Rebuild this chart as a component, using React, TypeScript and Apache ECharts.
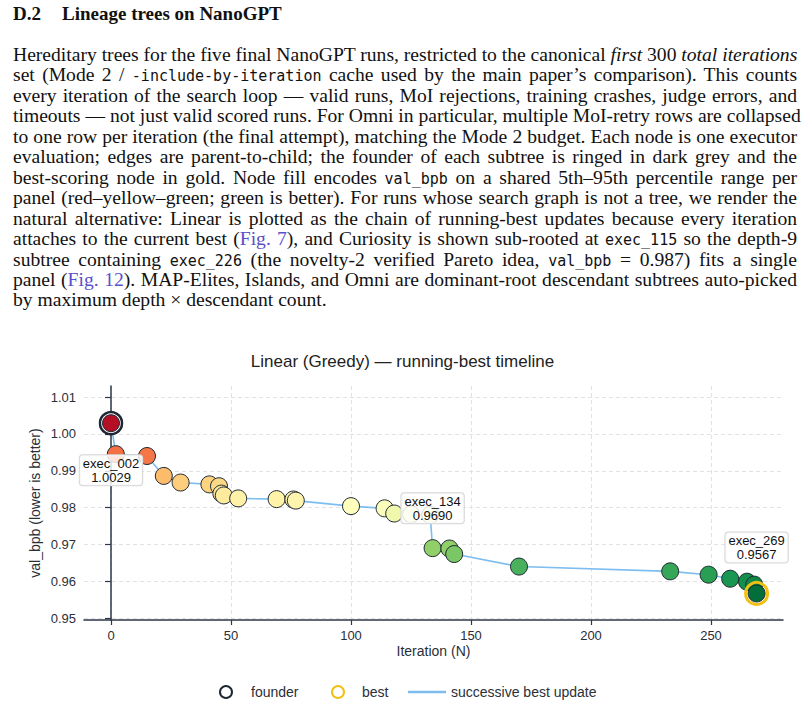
import React, { useEffect, useRef } from "react";
import * as echarts from "echarts";

// ---------- data ----------
const iterations = [0, 2, 15, 22, 29, 41, 45, 46, 47, 53, 69, 76, 77, 100, 114, 118, 125, 133, 134, 141, 143, 170, 233, 249, 258, 265, 268, 269];
const valBpb = [1.0029, 0.9945, 0.994, 0.9886, 0.9868, 0.9863, 0.9858, 0.9838, 0.9833, 0.9825, 0.9823, 0.9822, 0.9819, 0.9804, 0.9798, 0.9784, 0.9782, 0.978, 0.969, 0.9689, 0.9674, 0.964, 0.9627, 0.9618, 0.9607, 0.9599, 0.9591, 0.9567];
const founderIter = [0];
const founderVal = [1.0029];
const bestIter = [269];
const bestVal = [0.9567];
const annotationNames = ["exec_002", "exec_134", "exec_269"];
const annotationIter = [0, 134, 269];
const annotationVal = [1.0029, 0.969, 0.9567];
const xTicks = [0, 50, 100, 150, 200, 250];
const yTicks = [0.95, 0.96, 0.97, 0.98, 0.99, 1.0, 1.01];
const colorDomain = [0.9561, 1.0044]; // shared 5th–95th percentile range
const rdYlGnReversed = ["#006837", "#1a9850", "#66bd63", "#a6d96a", "#d9ef8b", "#ffffbf", "#fee08b", "#fdae61", "#f46d43", "#d73027", "#a50026"];

const SANS = '"Liberation Sans", Arial, Helvetica, sans-serif';
const SERIF = '"Liberation Serif", "Times New Roman", Times, serif';
const MONO = '"DejaVu Sans Mono", "Liberation Mono", monospace';
const AXIS = "#2d3748";
const TEXT = "#2a2f38";
const EDGE = "#7dbdf0";

const Mono = ({ children }: { children: React.ReactNode }) => (
  <span style={{ fontFamily: MONO, fontSize: "15px" }}>{children}</span>
);
const Link = ({ children }: { children: React.ReactNode }) => (
  <span style={{ color: "#5a50c8" }}>{children}</span>
);

const LINE_TOP = 45;
const LINE_STEP = 20.45;

function TextLine({ i, last, children }: { i: number; last?: boolean; children: React.ReactNode }) {
  return (
    <div
      style={{
        position: "absolute",
        left: 13,
        width: 784,
        top: LINE_TOP + i * LINE_STEP,
        height: 20,
        lineHeight: "20px",
        fontFamily: SERIF,
        fontSize: "19.6px",
        color: "#111",
        whiteSpace: "nowrap",
        textAlign: last ? "left" : "justify",
        textAlignLast: last ? "left" : "justify",
      } as React.CSSProperties}
    >
      {children}
    </div>
  );
}

export default function App() {
  const ref = useRef<HTMLDivElement>(null);

  useEffect(() => {
    if (!ref.current) return;
    const chart = echarts.init(ref.current, undefined, { renderer: "svg" });
    const pts = iterations.map((x, i) => [x, valBpb[i]]);
    const founder = founderIter.map((x, i) => [x, founderVal[i]]);
    const best = bestIter.map((x, i) => [x, bestVal[i]]);
    const ann = annotationIter.map((x, i) => ({
      value: [x, annotationVal[i], annotationNames[i]],
      label: { offset: [0, i === 0 ? 47 : i === 1 ? -40 : -46] },
    }));
    const axisLabelStyle = { fontSize: 13, color: TEXT, fontFamily: SANS };
    const gridLine = { show: true, lineStyle: { color: "#e2e2e2", width: 1, type: [4, 3] as any } };
    const legendText = { fontSize: 14, color: TEXT, fontFamily: SANS };

    chart.setOption({
      animation: false,
      backgroundColor: "transparent",
      textStyle: { fontFamily: SANS },
      title: {
        text: "Linear (Greedy) — running-best timeline",
        left: "center",
        top: 18,
        textStyle: { fontSize: 17, fontWeight: "normal", color: "#222", fontFamily: SANS },
      },
      grid: { left: 84, top: 56, width: 699, height: 234 },
      xAxis: {
        type: "value",
        min: -11.25,
        max: 280,
        name: "Iteration (N)",
        nameLocation: "middle",
        nameGap: 24,
        nameMoveOverlap: false,
        nameTextStyle: { fontSize: 14, color: TEXT, fontFamily: SANS },
        axisLine: { show: true, lineStyle: { color: AXIS, width: 1.5 } },
        axisTick: { show: true, length: 5, customValues: xTicks, lineStyle: { color: AXIS, width: 1.2 } },
        axisLabel: { ...axisLabelStyle, customValues: xTicks, margin: 9 },
        splitLine: gridLine,
      },
      yAxis: {
        type: "value",
        min: 0.9495,
        max: 1.013,
        name: "val_bpb (lower is better)",
        nameLocation: "middle",
        nameGap: 42,
        nameMoveOverlap: false,
        nameTextStyle: { fontSize: 14, color: TEXT, fontFamily: SANS },
        axisLine: { show: true, lineStyle: { color: AXIS, width: 1.5 } },
        axisTick: { show: true, length: 6, customValues: yTicks, lineStyle: { color: AXIS, width: 1.2 } },
        axisLabel: { ...axisLabelStyle, customValues: yTicks, margin: 8, formatter: (v: number) => v.toFixed(2) },
        splitLine: gridLine,
      },
      visualMap: {
        show: false,
        type: "continuous",
        min: colorDomain[0],
        max: colorDomain[1],
        dimension: 1,
        seriesIndex: 1,
        inRange: { color: rdYlGnReversed },
      },
      legend: [
        {
          data: ["founder"],
          left: 219,
          top: 355,
          padding: 0,
          itemWidth: 12,
          itemHeight: 12,
          itemStyle: { borderWidth: 2 },
          textStyle: { ...legendText, padding: [0, 0, 0, 14] },
        },
        {
          data: ["best"],
          left: 331,
          top: 355,
          padding: 0,
          itemWidth: 12,
          itemHeight: 12,
          itemStyle: { borderWidth: 2 },
          textStyle: { ...legendText, padding: [0, 0, 0, 13] },
        },
        {
          data: [{ name: "successive best update", icon: "rect" }],
          left: 408,
          top: 355,
          padding: 0,
          itemWidth: 38,
          itemHeight: 2.5,
          textStyle: legendText,
        },
      ],
      series: [
        {
          type: "line",
          name: "edges",
          data: pts,
          symbol: "none",
          lineStyle: { color: EDGE, width: 1.6 },
          itemStyle: { color: EDGE },
          z: 1,
          silent: true,
        },
        {
          type: "scatter",
          name: "nodes",
          data: pts,
          symbol: "circle",
          symbolSize: 17,
          itemStyle: { borderColor: "#1f2933", borderWidth: 1, opacity: 1 },
          z: 3,
        },
        {
          type: "scatter",
          name: "founder",
          data: founder,
          symbol: "circle",
          symbolSize: 22,
          itemStyle: { color: "#ffffff", borderColor: "#1e2733", borderWidth: 2.5, opacity: 1 },
          z: 2,
        },
        {
          type: "scatter",
          name: "best",
          data: best,
          symbol: "circle",
          symbolSize: 22,
          itemStyle: { color: "rgba(255,255,255,0)", borderColor: "#f2c014", borderWidth: 3, opacity: 1 },
          z: 4,
        },
        {
          type: "bar",
          name: "successive best update",
          data: [],
          itemStyle: { color: EDGE },
        },
        {
          type: "scatter",
          name: "annotations",
          data: ann,
          symbolSize: 0,
          silent: true,
          z: 10,
          itemStyle: { opacity: 1 },
          label: {
            show: true,
            position: "inside",
            formatter: (p: any) => `${p.value[2]}\n${p.value[1].toFixed(4)}`,
            fontSize: 13,
            lineHeight: 14,
            color: "#111",
            opacity: 1,
            textBorderWidth: 0,
            fontFamily: SANS,
            backgroundColor: "rgba(255,255,255,0.82)",
            borderColor: "#d6d6d6",
            borderWidth: 1,
            borderRadius: 3,
            padding: [1, 3, 1, 3],
          },
        },
      ],
    });
    return () => chart.dispose();
  }, []);

  return (
    <div style={{ position: "relative", width: 805, height: 708, background: "#fff", overflow: "hidden" }}>
      <style>{`body{margin:0}`}</style>
      <div
        style={{
          position: "absolute",
          left: 13,
          top: 3,
          height: 22,
          lineHeight: "22px",
          fontFamily: SERIF,
          fontWeight: "bold",
          fontSize: "19px",
          color: "#111",
          whiteSpace: "nowrap",
        }}
      >
        <span style={{ display: "inline-block", width: 49 }}>D.2</span>Lineage trees on NanoGPT
      </div>
      <TextLine i={0}>
        Hereditary trees for the five final NanoGPT runs, restricted to the canonical <i>first</i> 300 <i>total iterations</i>
      </TextLine>
      <TextLine i={1}>
        set (Mode 2 / <Mono>-include-by-iteration</Mono> cache used by the main paper’s comparison). This counts
      </TextLine>
      <TextLine i={2}>
        every iteration of the search loop — valid runs, MoI rejections, training crashes, judge errors, and
      </TextLine>
      <TextLine i={3}>
        timeouts — not just valid scored runs. For Omni in particular, multiple MoI-retry rows are collapsed
      </TextLine>
      <TextLine i={4}>
        to one row per iteration (the final attempt), matching the Mode 2 budget. Each node is one executor
      </TextLine>
      <TextLine i={5}>
        evaluation; edges are parent-to-child; the founder of each subtree is ringed in dark grey and the
      </TextLine>
      <TextLine i={6}>
        best-scoring node in gold. Node fill encodes <Mono>val_bpb</Mono> on a shared 5th–95th percentile range per
      </TextLine>
      <TextLine i={7}>
        panel (red–yellow–green; green is better). For runs whose search graph is not a tree, we render the
      </TextLine>
      <TextLine i={8}>
        natural alternative: Linear is plotted as the chain of running-best updates because every iteration
      </TextLine>
      <TextLine i={9}>
        attaches to the current best (<Link>Fig. 7</Link>), and Curiosity is shown sub-rooted at <Mono>exec_115</Mono> so the depth-9
      </TextLine>
      <TextLine i={10}>
        subtree containing <Mono>exec_226</Mono> (the novelty-2 verified Pareto idea, <Mono>val_bpb</Mono> = 0.987) fits a single
      </TextLine>
      <TextLine i={11}>
        panel (<Link>Fig. 12</Link>). MAP-Elites, Islands, and Omni are dominant-root descendant subtrees auto-picked
      </TextLine>
      <TextLine i={12} last>
        by maximum depth × descendant count.
      </TextLine>
      <div ref={ref} style={{ position: "absolute", left: 0, top: 330, width: 805, height: 378 }} />
    </div>
  );
}
